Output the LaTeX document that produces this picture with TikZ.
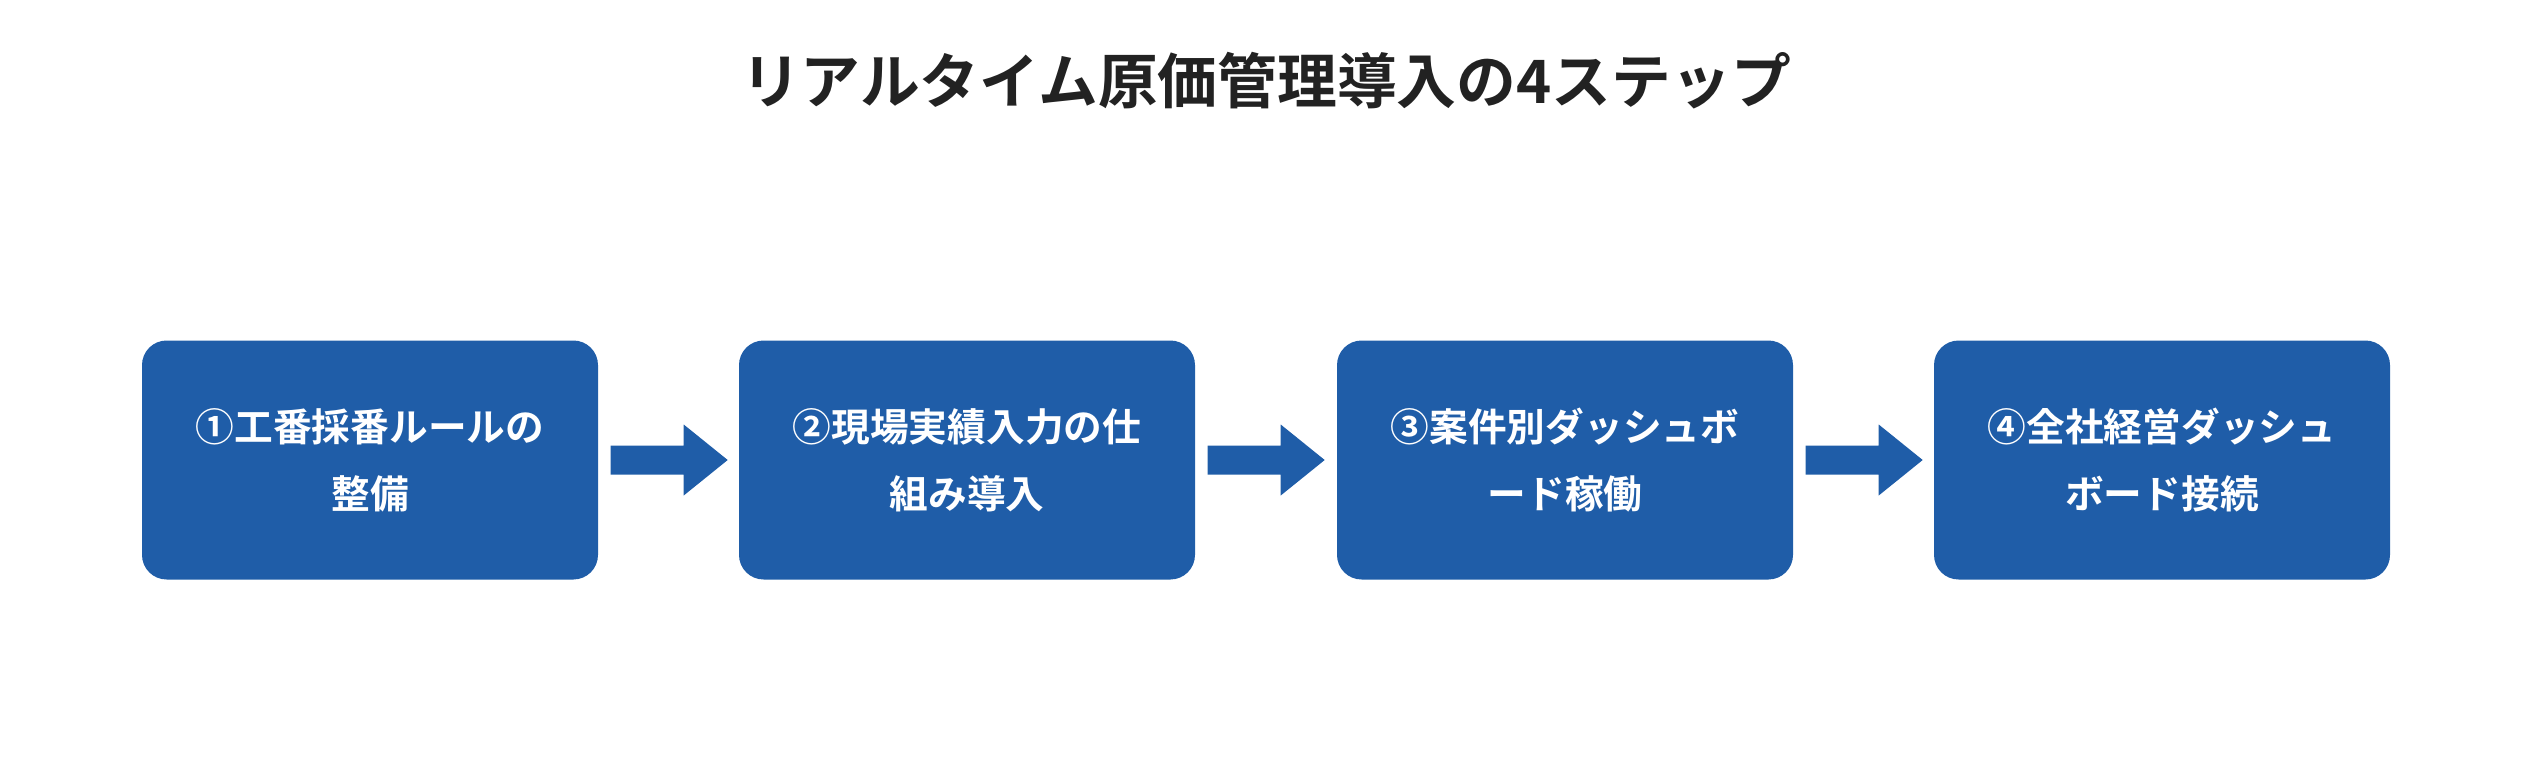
\documentclass[tikz,border=0pt]{standalone}
\usepackage{fontspec}
\setmainfont{Noto Sans CJK JP}[BoldFont={* Bold}]
\begin{document}
\begin{tikzpicture}[x=0.01cm,y=-0.01cm,
  box/.style={fill=boxblue,rounded corners=7pt,minimum width=456*0.01cm,minimum height=239*0.01cm,text=white,font=\bfseries\fontsize{11}{19}\selectfont,align=center,inner sep=0pt},
  arr/.style={fill=boxblue}]
\definecolor{boxblue}{HTML}{1F5DA8}
\useasboundingbox (0,0) rectangle (2532,760);
\node[font=\bfseries\fontsize{17}{20}\selectfont,text={rgb,255:red,34;green,34;blue,34}] (t) at (1266,81) {リアルタイム原価管理導入の4ステップ};
\node[box] (b1) at (370,460) {①工番採番ルールの\\整備};
\node[box] (b2) at (967,460) {②現場実績入力の仕\\組み導入};
\node[box] (b3) at (1565,460) {③案件別ダッシュボ\\ード稼働};
\node[box] (b4) at (2162,460) {④全社経営ダッシュ\\ボード接続};
\foreach \a/\b in {b1/b2,b2/b3,b3/b4}{
  \path (\a.east) ++(12,0) coordinate (s);
  \fill[arr] (s) ++(0,-14.5) -- ++(73,0) -- ++(0,-21) -- ++(44,35.5) -- ++(-44,35.5) -- ++(0,-21) -- ++(-73,0) -- cycle;
}
\end{tikzpicture}
\end{document}
